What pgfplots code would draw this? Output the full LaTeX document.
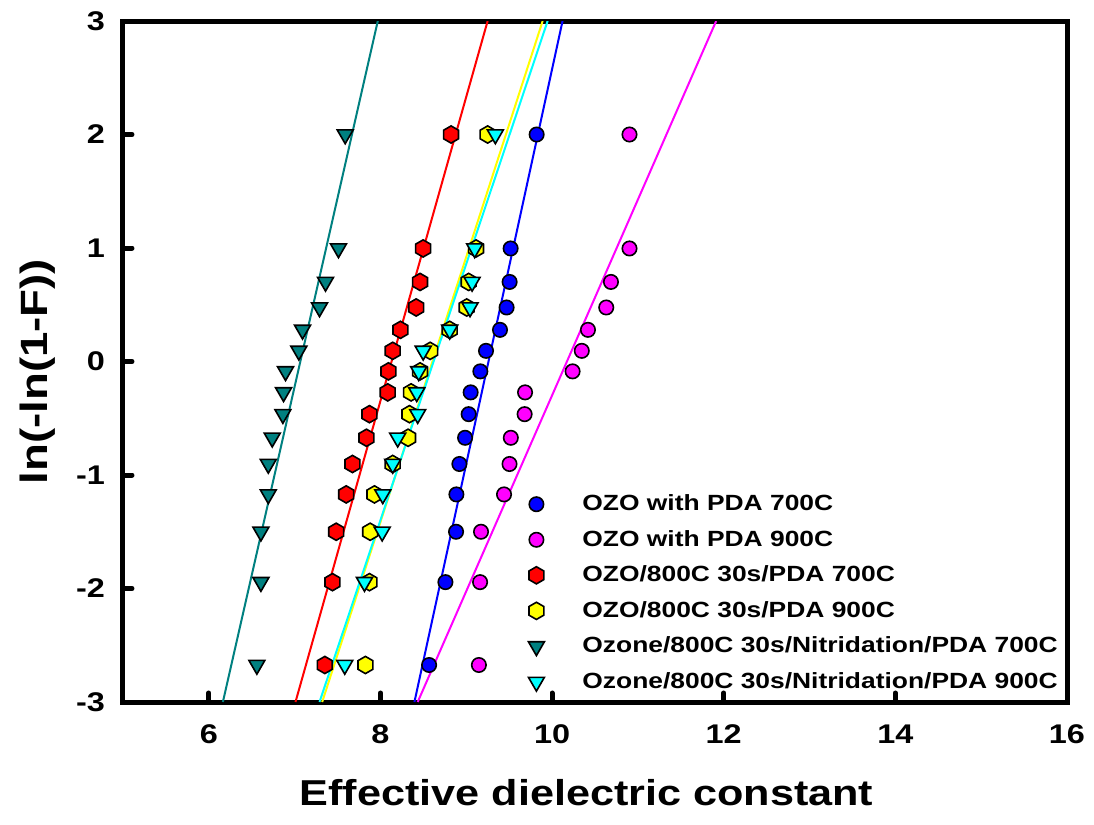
\documentclass[border=0pt]{standalone}
\usepackage{pgfplots}
\pgfplotsset{compat=1.18}
\usepackage{fontspec}
\setmainfont{Liberation Sans}[FakeStretch=1.2]

% hexagon mark with a vertex on top
\pgfdeclareplotmark{hexagon*}{%
  \pgfpathmoveto{\pgfpointpolar{90}{\pgfplotmarksize}}%
  \pgfpathlineto{\pgfpointpolar{150}{\pgfplotmarksize}}%
  \pgfpathlineto{\pgfpointpolar{210}{\pgfplotmarksize}}%
  \pgfpathlineto{\pgfpointpolar{270}{\pgfplotmarksize}}%
  \pgfpathlineto{\pgfpointpolar{330}{\pgfplotmarksize}}%
  \pgfpathlineto{\pgfpointpolar{30}{\pgfplotmarksize}}%
  \pgfpathclose
  \pgfusepathqfillstroke
}

\definecolor{tealc}{RGB}{0,128,128}
\definecolor{bluec}{RGB}{0,0,255}
\definecolor{magc}{RGB}{255,0,255}
\definecolor{redc}{RGB}{255,0,0}
\definecolor{yelc}{RGB}{255,255,0}
\definecolor{cyanc}{RGB}{0,255,255}

% Weibull plotting positions, ln(-ln(1-F))
\pgfplotstableread{
x y
9.820 2.0
9.517 0.996
9.505 0.701
9.470 0.476
9.393 0.279
9.230 0.094
9.164 -0.087
9.051 -0.272
9.028 -0.464
8.986 -0.672
8.920 -0.903
8.885 -1.171
8.881 -1.500
8.757 -1.944
8.567 -2.674
}\blueA
\pgfplotstableread{
x y
10.902 2.0
10.902 0.996
10.686 0.701
10.631 0.476
10.418 0.279
10.346 0.094
10.239 -0.087
9.685 -0.272
9.680 -0.464
9.519 -0.672
9.504 -0.903
9.440 -1.171
9.172 -1.500
9.161 -1.944
9.147 -2.674
}\magA
\pgfplotstableread{
x y
8.823 2.0
8.497 0.996
8.462 0.701
8.416 0.476
8.233 0.279
8.143 0.094
8.093 -0.087
8.085 -0.272
7.872 -0.464
7.837 -0.672
7.674 -0.903
7.601 -1.171
7.484 -1.500
7.441 -1.944
7.352 -2.674
}\redA
\pgfplotstableread{
x y
9.249 2.0
9.114 0.996
9.028 0.701
9.005 0.476
8.807 0.279
8.579 0.094
8.462 -0.087
8.357 -0.272
8.338 -0.464
8.322 -0.672
8.143 -0.903
7.930 -1.171
7.880 -1.500
7.872 -1.944
7.825 -2.674
}\yelA
\pgfplotstableread{
x y
7.589 2.0
7.511 0.996
7.360 0.701
7.290 0.476
7.092 0.279
7.049 0.094
6.894 -0.087
6.871 -0.272
6.863 -0.464
6.739 -0.672
6.693 -0.903
6.693 -1.171
6.607 -1.500
6.607 -1.944
6.560 -2.674
}\tealA
\pgfplotstableread{
x y
9.339 2.0
9.098 0.996
9.068 0.701
9.044 0.476
8.807 0.279
8.498 0.094
8.446 -0.087
8.423 -0.272
8.434 -0.464
8.201 -0.672
8.143 -0.903
8.027 -1.171
8.020 -1.500
7.814 -1.944
7.584 -2.674
}\cyanA

\begin{document}
\begin{tikzpicture}
\begin{axis}[
  name=ax,
  scale only axis,
  width=472pt, height=340.5pt,
  xmin=5, xmax=16, ymin=-3, ymax=3,
  xtick={6,8,10,12,14,16},
  ytick={-3,-2,-1,0,1,2,3},
  tick pos=left,
  tick align=inside,
  major tick length=4.5pt,
  tick style={black, line width=2.5pt, line cap=round},
  axis line style={line width=2.5pt},
  /pgf/number format/assume math mode=true,
  ticklabel style={font=\fontsize{13.5}{13.5}\selectfont\bfseries},
  xticklabel style={yshift=-8pt},
  yticklabel style={xshift=-5.5pt},
  xlabel={Effective dielectric constant},
  ylabel={ln(-ln(1-F))},
  every axis x label/.style={at={(axis description cs:0.491,-0.152)}, anchor=base,
    font=\fontsize{18}{18}\selectfont\bfseries},
  every axis y label/.style={at={(axis description cs:-0.09,0.485)}, rotate=90, anchor=center,
    font=\fontsize{19}{19}\selectfont\bfseries},
  legend cell align=left,
  legend style={draw=none, fill=none, at={(axis cs:9.65,-1.1)}, anchor=north west,
    font=\fontsize{11}{11}\selectfont\bfseries, row sep=4.3pt,
    /tikz/every odd column/.append style={column sep=17pt}},
  legend image code/.code={\draw[#1] plot coordinates {(0.3cm,0cm)};},
  every axis plot/.append style={line width=1pt},
]
% fitted Weibull lines
\addplot[tealc, forget plot] coordinates {(6.164,-3) (7.969,3)};
\addplot[redc, forget plot] coordinates {(7.010,-3) (9.249,3)};
\addplot[yelc, forget plot] coordinates {(7.321,-3) (9.890,3)};
\addplot[cyanc, forget plot] coordinates {(7.290,-3) (9.948,3)};
\addplot[bluec, forget plot] coordinates {(8.396,-3) (10.122,3)};
\addplot[magc, forget plot] coordinates {(8.434,-3) (11.912,3)};
% measured data
\addplot[only marks, mark=*, mark size=3.6pt, draw=black, fill=bluec, line width=0.8pt] table {\blueA};
\addlegendentry{OZO with PDA 700C}
\addplot[only marks, mark=*, mark size=3.6pt, draw=black, fill=magc, line width=0.8pt] table {\magA};
\addlegendentry{OZO with PDA 900C}
\addplot[only marks, mark=hexagon*, mark size=4.3pt, draw=black, fill=redc, line width=0.8pt] table {\redA};
\addlegendentry{OZO/800C 30s/PDA 700C}
\addplot[only marks, mark=hexagon*, mark size=4.3pt, draw=black, fill=yelc, line width=0.8pt] table {\yelA};
\addlegendentry{OZO/800C 30s/PDA 900C}
\addplot[only marks, mark=triangle*, mark size=4.6pt, mark options={rotate=180}, draw=black, fill=tealc, line width=0.8pt] table {\tealA};
\addlegendentry{Ozone/800C 30s/Nitridation/PDA 700C}
\addplot[only marks, mark=triangle*, mark size=4.6pt, mark options={rotate=180}, draw=black, fill=cyanc, line width=0.8pt] table {\cyanA};
\addlegendentry{Ozone/800C 30s/Nitridation/PDA 900C}
\end{axis}
\path[use as bounding box] ([xshift=-61.5pt,yshift=-61.5pt]ax.south west) rectangle ++(547pt,412.5pt);
\end{tikzpicture}
\end{document}
